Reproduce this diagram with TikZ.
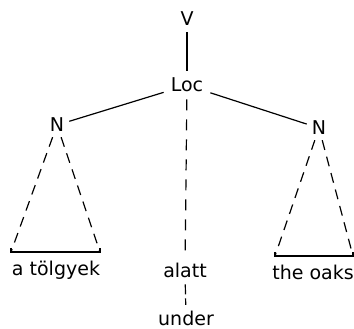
\documentclass[tikz,border=0pt]{standalone}
\usepackage{fontspec}
\setmainfont{DejaVu Sans}
\usetikzlibrary{arrows}

\begin{document}
\begin{tikzpicture}[x=10pt,y=10pt]
\tikzset{word/.style={anchor=base,inner sep=6pt,font=\fontsize{19}{22}\selectfont}}
\useasboundingbox (0,0) rectangle (35.4,32.9);
\node[word] (V) at (18.7,30.3) {V};
\node[word,inner sep=7pt] (Loc) at (18.7,23.7) {Loc};
\node[word,inner sep=5pt] (Nl) at (5.7,19.7) {N};
\node[word,inner sep=5pt] (Nr) at (31.9,19.4) {N};
\node[word] (tolgyek) at (5.6,5.3) {a tölgyek};
\node[word] (alatt) at (18.5,5.1) {alatt};
\node[word] (oaks) at (31.3,4.9) {the oaks};
\node[word] (under) at (18.6,0.35) {under};
\coordinate (l1) at (1.1,7.7);
\coordinate (l2) at (10.0,7.7);
\coordinate (r1) at (27.5,7.3);
\coordinate (r2) at (35.3,7.3);
\tikzset{EdgeStyle/.style={line width=1.2pt}}
\draw[EdgeStyle] (V) -- (Loc);
\draw[EdgeStyle] (Loc) -- (Nl);
\draw[EdgeStyle] (Loc) -- (Nr);
\draw[EdgeStyle] (l1) ++(0,0.4) -- (l1) -- (l2) -- ++(0,0.4);
\draw[EdgeStyle] (r1) ++(0,0.4) -- (r1) -- (r2) -- ++(0,0.4);
\tikzset{EdgeStyle/.style={line width=1.2pt,dash pattern=on 11pt off 9pt}}
\draw[EdgeStyle] (Loc) -- (alatt);
\draw[EdgeStyle,dash pattern=on 10pt off 4pt] (alatt) -- (under);
\tikzset{EdgeStyle/.style={line width=1.2pt,dash pattern=on 10pt off 7pt}}
\draw[EdgeStyle] (Nl) -- (l1);
\draw[EdgeStyle] (Nl) -- (l2);
\draw[EdgeStyle] (Nr) -- (r1);
\draw[EdgeStyle] (Nr) -- (r2);
\end{tikzpicture}
\end{document}
